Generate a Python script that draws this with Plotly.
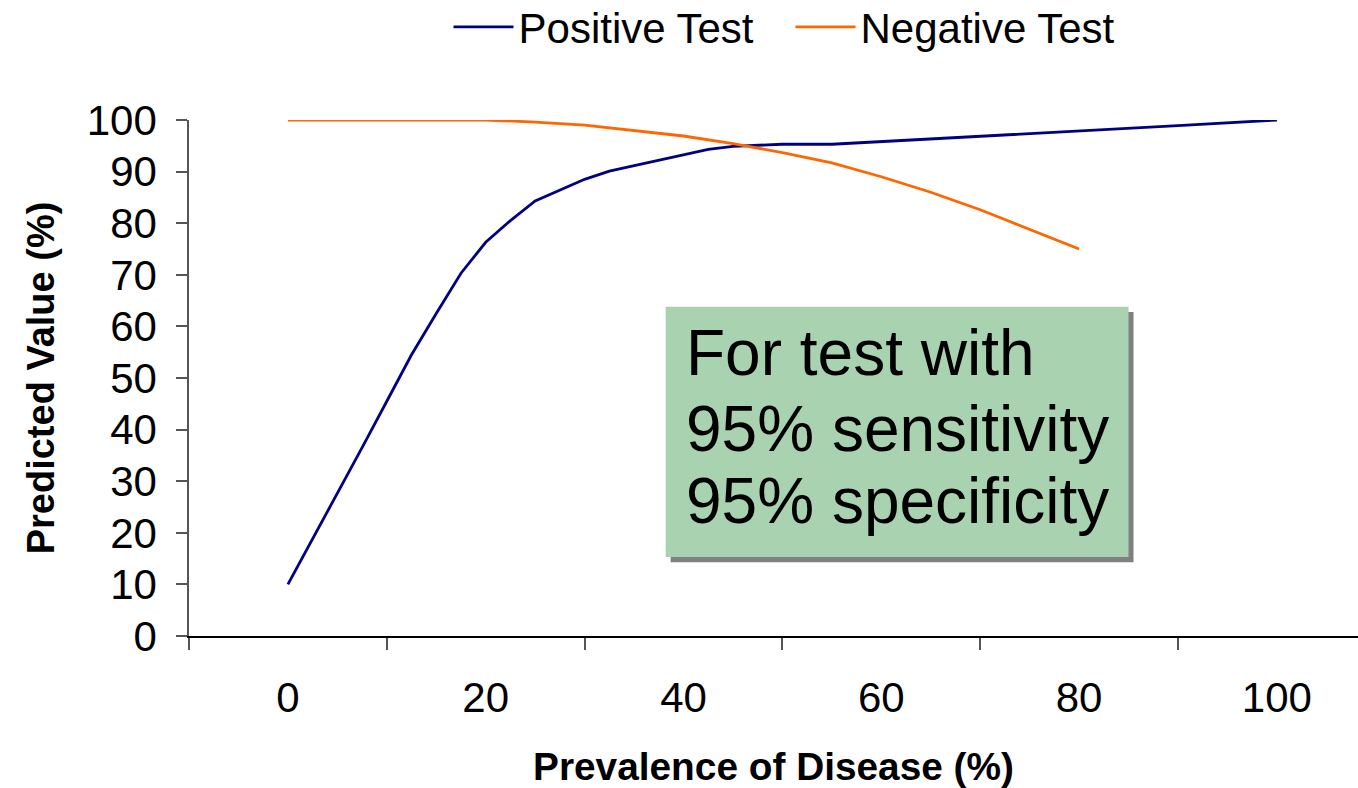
import plotly.graph_objects as go

# Data
prev_pos = [0, 2.5, 5, 7.5, 10, 12.5, 15, 17.5, 20, 22.5, 25, 30, 32.5, 40, 42.5, 45, 50, 55, 60, 70, 80, 90, 100]
ppv = [10, 18.8, 27.6, 36.5, 45.5, 54.5, 62.5, 70.3, 76.3, 80.5, 84.3, 88.5, 90.1, 93.2, 94.3, 94.9, 95.3, 95.3, 95.8, 96.8, 97.8, 98.9, 100]

prev_neg = [0, 20, 25, 30, 40, 45, 50, 55, 60, 65, 70, 75, 80]
npv = [100, 100, 99.6, 99.0, 96.9, 95.4, 93.7, 91.7, 89.0, 86.0, 82.6, 78.8, 75.0]

x_ticks = [0, 20, 40, 60, 80, 100]
y_ticks = [0, 10, 20, 30, 40, 50, 60, 70, 80, 90, 100]
box_lines = ["For test with", "95% sensitivity", "95% specificity"]

FONT = "Arial, Liberation Sans, sans-serif"

fig = go.Figure()
fig.add_trace(go.Scatter(x=prev_pos, y=ppv, mode="lines", name="Positive Test",
                         line=dict(color="#000080", width=2.8)))
fig.add_trace(go.Scatter(x=prev_neg, y=npv, mode="lines", name="Negative Test",
                         line=dict(color="#FF6600", width=2.8)))

# Text box with shadow
fig.add_shape(type="rect", xref="x", yref="y", x0=38.7, x1=85.5, y0=14.3, y1=62.8,
              fillcolor="#808080", line=dict(width=0), layer="above")
fig.add_shape(type="rect", xref="x", yref="y", x0=38.2, x1=85.0, y0=15.3, y1=63.8,
              fillcolor="#A9D2B0", line=dict(width=0), layer="above")

line_y = [54.9, 40.2, 26.2]
for txt, yy in zip(box_lines, line_y):
    fig.add_annotation(x=40.1, y=yy, xref="x", yref="y", text=txt, showarrow=False,
                       xanchor="left", yanchor="middle",
                       font=dict(family=FONT, size=64, color="black"))

fig.update_layout(
    width=1358, height=788,
    margin=dict(l=189, r=0, t=120, b=152, autoexpand=False),
    paper_bgcolor="white", plot_bgcolor="white",
    font=dict(family=FONT, color="black"),
    showlegend=True,
    legend=dict(orientation="h", x=0.222, xanchor="left", y=1.18, yanchor="middle",
                font=dict(family=FONT, size=42, color="black"),
                bgcolor="rgba(0,0,0,0)", itemwidth=60, entrywidth=267),
)

fig.update_xaxes(
    range=[-10, 108.2], tickmode="array", tickvals=x_ticks, ticktext=[str(v) for v in x_ticks],
    ticks="", showgrid=False, zeroline=False,
    showline=True, linecolor="black", linewidth=1.5,
    tickfont=dict(family=FONT, size=42, color="black"), ticklabelstandoff=24,
    minor=dict(tickmode="array", tickvals=[-10, 10, 30, 50, 70, 90], ticks="outside",
               ticklen=12, tickwidth=1.5, tickcolor="#555555", showgrid=False),
    title=dict(text="<b>Prevalence of Disease (%)</b>", standoff=36,
               font=dict(family=FONT, size=38.8, color="black")),
)
fig.update_yaxes(
    range=[0, 100], tickmode="array", tickvals=y_ticks,
    ticks="outside", ticklen=11, tickwidth=1.5, tickcolor="#555555",
    showgrid=False, zeroline=False,
    showline=True, linecolor="#555555", linewidth=1.5,
    tickfont=dict(family=FONT, size=42, color="black"), ticklabelstandoff=11,
    title=dict(text="<b>Predicted Value (%)</b>", standoff=20,
               font=dict(family=FONT, size=38, color="black")),
)

fig.write_html("out.html")
